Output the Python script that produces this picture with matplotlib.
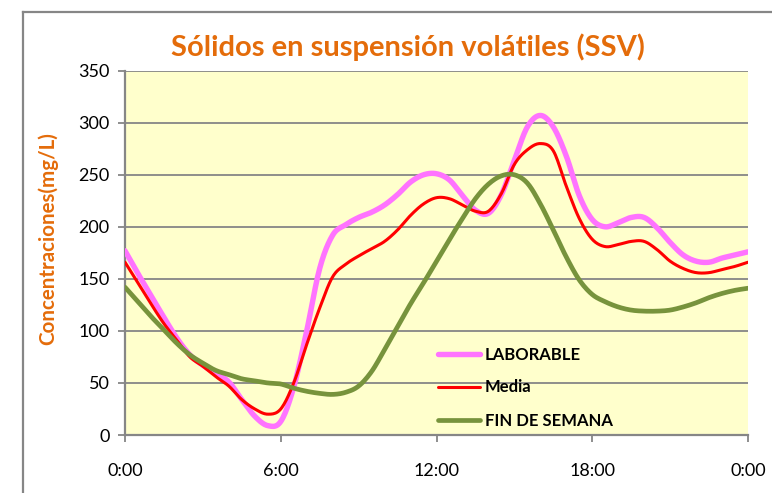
import numpy as np
import matplotlib
matplotlib.use("Agg")
import matplotlib.pyplot as plt
from matplotlib.lines import Line2D

# ---------------- data (half-hour readings, mg/L) ----------------
hours = [i * 0.5 for i in range(49)]
laborable = [177, 155, 134, 113, 93, 77, 67, 59, 51, 34, 18, 9, 13, 46, 100, 160,
             192, 202, 209, 214, 221, 231, 243, 250, 251, 245, 230, 216, 213, 231,
             264, 296, 307, 296, 268, 230, 207, 200, 204, 209, 209, 199, 185, 173,
             167, 166, 170, 173, 176]
media = [166, 146, 126, 107, 91, 75, 66, 56, 47, 34, 25, 20, 25, 50, 87, 122,
         152, 164, 172, 179, 186, 197, 211, 222, 228, 227, 221, 215, 215, 232,
         260, 274, 280, 273, 239, 208, 188, 181, 183, 186, 186, 178, 167, 160,
         156, 156, 159, 162, 166]
fin_semana = [142, 128, 114, 101, 88, 77, 69, 62, 58, 54, 52, 50, 49, 45, 42, 40,
              39, 41, 47, 61, 82, 104, 126, 146, 167, 188, 208, 227, 241, 249,
              250, 242, 222, 197, 171, 149, 135, 128, 123, 120, 119, 119, 120, 123,
              127, 132, 136, 139, 141]
series_names = ["LABORABLE", "Media", "FIN DE SEMANA"]
xtick_hours = [0, 6, 12, 18, 24]
xtick_labels = ["0:00", "6:00", "12:00", "18:00", "0:00"]
yticks = [0, 50, 100, 150, 200, 250, 300, 350]
title = "Sólidos en suspensión volátiles (SSV)"
ylabel = "Concentraciones(mg/L)"


def catmull_rom(x, y, n=12):
    x = np.asarray(x, float)
    y = np.asarray(y, float)
    xp = np.concatenate([[2 * x[0] - x[1]], x, [2 * x[-1] - x[-2]]])
    yp = np.concatenate([[2 * y[0] - y[1]], y, [2 * y[-1] - y[-2]]])
    xs, ys = [], []
    t = np.linspace(0, 1, n, endpoint=False)
    for i in range(1, len(xp) - 2):
        for arr, out in ((xp, xs), (yp, ys)):
            p0, p1, p2, p3 = arr[i - 1], arr[i], arr[i + 1], arr[i + 2]
            out.extend(0.5 * ((2 * p1) + (-p0 + p2) * t
                              + (2 * p0 - 5 * p1 + 4 * p2 - p3) * t ** 2
                              + (-p0 + 3 * p1 - 3 * p2 + p3) * t ** 3))
    xs.append(x[-1])
    ys.append(y[-1])
    return np.array(xs), np.array(ys)


plt.rcParams['font.family'] = ['Lato', 'DejaVu Sans']

W, H = 772, 493
fig = plt.figure(figsize=(W / 100, H / 100), dpi=100)
fig.patch.set_facecolor('white')

# outer chart frame (cropped)
frame_col = '#868686'
fig.add_artist(Line2D([23 / W, 23 / W], [0, 1 - 12 / H], color=frame_col, lw=1.6,
                      transform=fig.transFigure))
fig.add_artist(Line2D([23 / W, 1], [1 - 12 / H, 1 - 12 / H], color=frame_col, lw=1.6,
                      transform=fig.transFigure))

ax = fig.add_axes([125 / W, 1 - 435 / H, (748 - 125) / W, (435 - 70.7) / H])
ax.set_facecolor('#FFFFCC')

grid_col = '#868686'
for v in yticks[1:]:
    ax.axhline(v, color=grid_col, lw=1.3, zorder=1)

colors = ['#FF73FF', '#FF0000', '#77933C']
widths = [3.9, 2.2, 3.4]
for vals, name, c, lw in zip([laborable, media, fin_semana], series_names, colors, widths):
    sx, sy = catmull_rom(hours, vals)
    ax.plot(sx, sy, color=c, lw=lw, label=name, solid_capstyle='round', zorder=3)

ax.set_xlim(0, 24)
ax.set_ylim(0, 350)
ax.set_xticks(xtick_hours)
ax.set_xticklabels(xtick_labels)
ax.set_yticks(yticks)
ax.tick_params(axis='both', colors=grid_col, labelcolor='black', labelsize=13,
               length=5, width=1.3, direction='out')
ax.tick_params(axis='x', pad=15)
ax.tick_params(axis='y', pad=6)
for s in ['top', 'right']:
    ax.spines[s].set_visible(False)
for s in ['left', 'bottom']:
    ax.spines[s].set_color(grid_col)
    ax.spines[s].set_linewidth(1.6)

orange = '#E46C0A'
fig.text(408 / W, 1 - 47 / H, title, ha='center', va='center', color=orange,
         fontsize=21, fontweight='bold')
fig.text(48 / W, 1 - 239 / H, ylabel, ha='center', va='center', rotation=90,
         color=orange, fontsize=14.8, fontweight='bold')

leg = ax.legend(loc='upper left', bbox_to_anchor=(438 / W, 1 - 346.5 / H),
                bbox_transform=fig.transFigure, frameon=False,
                prop={'weight': 'bold', 'size': 12}, handlelength=2.5,
                handletextpad=0.3, labelspacing=1.02, borderpad=0,
                borderaxespad=0)

fig.savefig('out.png', dpi=100, facecolor='white')
